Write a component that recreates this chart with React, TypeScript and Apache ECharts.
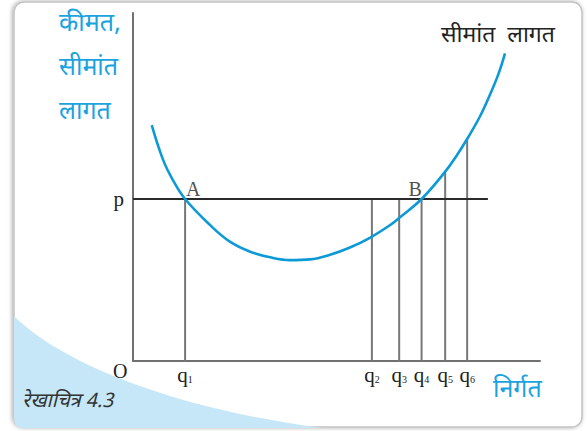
import React, { useEffect, useRef } from "react";
import * as echarts from "echarts";

// ---- data (value units: x 0..100, y 0..100) ----
const Q_SUBS = ["1", "2", "3", "4", "5", "6"];
const Q_VALUES = [12.8, 58.7, 65.4, 70.9, 76.7, 82.1];
const Q_TOPS = [46.55, 46.55, 46.55, 46.55, 54.4, 64.0];
const PRICE = 46.55;
const PRICE_LINE_END = 87.2;
const MC_X = [4.6, 7.4, 9.8, 12.8, 18.9, 23.8, 28.8, 33.7, 38.6, 43.5, 48.4, 53.3, 58.2, 63.1, 65.6, 70.9, 76.7, 79.5, 82.2, 85.3, 87.7, 89.8, 91.4];
const MC_Y = [67.8, 57.8, 52.0, 46.55, 39.1, 34.3, 31.4, 29.8, 29.0, 29.2, 30.5, 32.6, 35.4, 39.0, 41.3, 46.55, 54.4, 59.0, 64.0, 70.4, 76.5, 82.5, 88.4];
const POINT_NAMES = ["A", "B"];
const POINT_Q_INDEX = [0, 3];
const Y_TITLE = ["कीमत,", "सीमांत", "लागत"];
const CURVE_NAME = "सीमांत  लागत";
const X_TITLE = "निर्गत";
const CAPTION = "रेखाचित्र 4.3";

const HINDI = "'Noto Sans Devanagari', 'Noto Serif Devanagari', 'Lohit Devanagari', 'Mukta', 'Noto Sans', sans-serif";
const SERIF = "'Liberation Serif', 'DejaVu Serif', serif";
const BLUE = "#0c9ad6";
const TEXT_BLUE = "#1aa3de";

echarts.graphic.registerShape(
  "swoosh",
  echarts.graphic.extendPath("M14 316 C 60 362, 170 408, 322 428 L 24 428 Q 14 428 14 418 Z", {})
);

export default function App() {
  const ref = useRef<HTMLDivElement>(null);
  useEffect(() => {
    if (!ref.current) return;
    const chart = echarts.init(ref.current, undefined, { renderer: "svg" });

    const verticals = Q_VALUES.map((q, i) => ({
      type: "line",
      data: [
        [q, 0],
        [q, Q_TOPS[i]],
      ],
      symbol: "none",
      lineStyle: { color: "#777", width: 2 },
      z: 2,
      silent: true,
    }));

    chart.setOption({
      animation: false,
      backgroundColor: "#fff",
      grid: { left: 133, right: 47, top: 13, bottom: 70 },
      xAxis: {
        type: "value",
        min: 0,
        max: 100,
        splitLine: { show: false },
        axisTick: { show: false },
        axisLine: { show: true, lineStyle: { color: "#707070", width: 2 } },
        axisLabel: {
          customValues: Q_VALUES,
          margin: 3,
          formatter: (v: number) => {
            const i = Q_VALUES.indexOf(v);
            return i < 0 ? "" : `{q|q}{s|${Q_SUBS[i]}}`;
          },
          rich: {
            q: { fontFamily: SERIF, fontSize: 21, color: "#222", lineHeight: 22, verticalAlign: "top" },
            s: { fontFamily: SERIF, fontSize: 10, color: "#222", lineHeight: 10, verticalAlign: "top", padding: [10, 0, 0, 0] },
          },
        },
      },
      yAxis: {
        type: "value",
        min: 0,
        max: 100,
        splitLine: { show: false },
        axisTick: { show: false },
        axisLine: { show: true, lineStyle: { color: "#707070", width: 2 } },
        axisLabel: {
          customValues: [PRICE],
          margin: 9,
          formatter: () => "p",
          fontFamily: SERIF,
          fontSize: 21,
          color: "#222",
        },
      },
      graphic: [
        {
          type: "rect",
          z: -10,
          shape: { x: 14, y: 2, width: 568, height: 425, r: 10 },
          style: {
            fill: "#fff",
            stroke: "#c4c4c4",
            lineWidth: 1.5,
            shadowBlur: 4,
            shadowColor: "rgba(0,0,0,0.35)",
            shadowOffsetX: -1,
            shadowOffsetY: 0,
          },
        },
        {
          type: "swoosh",
          z: -9,
          style: { fill: "#c6e7f7" },
        },
        ...Y_TITLE.map((t, i) => ({
          type: "text",
          left: 59,
          top: 12 + i * 44,
          z: 10,
          style: { text: t, fontFamily: HINDI, fontSize: 25, fill: TEXT_BLUE },
        })),
        {
          type: "text",
          left: 441,
          top: 24,
          z: 10,
          style: { text: CURVE_NAME, fontFamily: HINDI, fontSize: 23, fill: "#222" },
        },
        {
          type: "text",
          left: 493,
          top: 378,
          z: 10,
          style: { text: X_TITLE, fontFamily: HINDI, fontSize: 25, fill: TEXT_BLUE },
        },
        {
          type: "text",
          left: 22,
          top: 392,
          z: 10,
          style: { text: CAPTION, fontFamily: HINDI, fontSize: 20, fontStyle: "italic", fill: "#333" },
        },
        {
          type: "text",
          left: 113,
          top: 361,
          z: 10,
          style: { text: "O", fontFamily: SERIF, fontSize: 20, fill: "#222" },
        },
      ],
      series: [
        ...verticals,
        {
          type: "line",
          data: [
            [0, PRICE],
            [PRICE_LINE_END, PRICE],
          ],
          symbol: "none",
          lineStyle: { color: "#2a2a2a", width: 2 },
          z: 3,
        },
        {
          type: "line",
          data: MC_X.map((x, i) => [x, MC_Y[i]]),
          smooth: 0.4,
          symbol: "none",
          lineStyle: { color: BLUE, width: 2.6 },
          z: 4,
        },
        {
          type: "scatter",
          symbolSize: 0,
          z: 5,
          data: POINT_NAMES.map((n, i) => ({
            name: n,
            value: [Q_VALUES[POINT_Q_INDEX[i]], PRICE],
            label: {
              show: true,
              formatter: n,
              position: i === 0 ? [1, -20] : [-13, -20],
              fontFamily: SERIF,
              fontSize: 20,
              color: "#222",
            },
          })),
        },
      ],
    });
    return () => chart.dispose();
  }, []);
  return (
    <div
      ref={ref}
      style={{ position: "fixed", left: 0, top: 0, width: 587, height: 431 }}
    />
  );
}
